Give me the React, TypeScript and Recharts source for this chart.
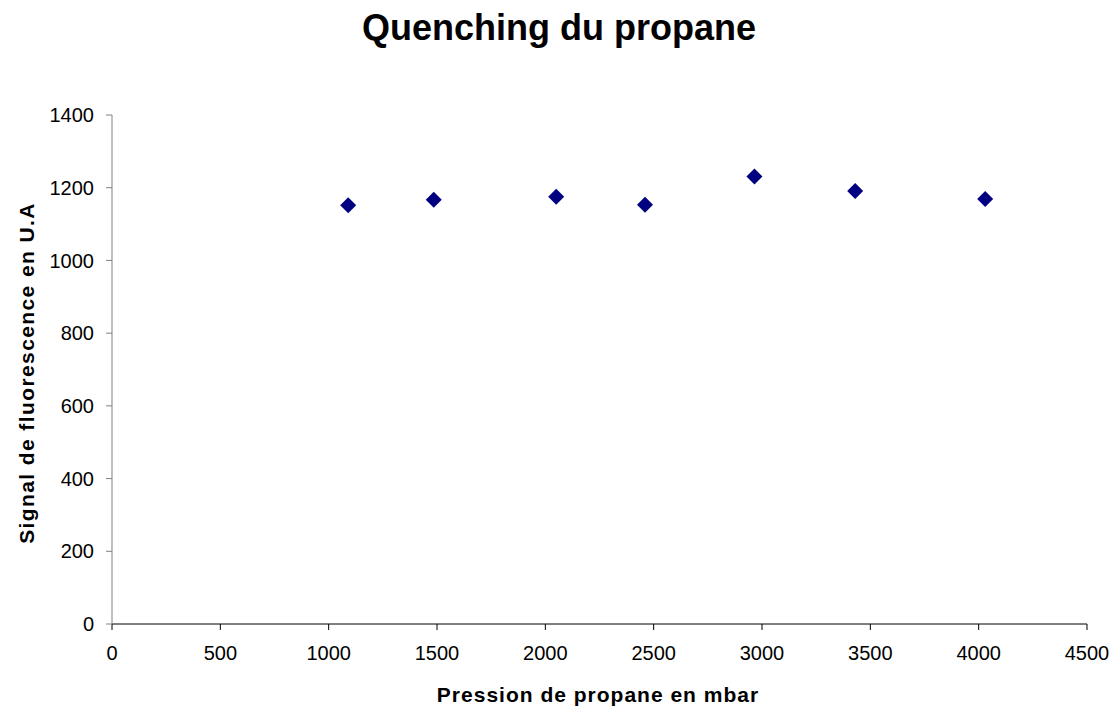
import React from 'react';
import { ScatterChart, Scatter, XAxis, YAxis, Label } from 'recharts';

// pression (mbar) et signal
const pressions = [1090, 1485, 2050, 2460, 2965, 3430, 4030];
const signaux = [1152, 1167, 1175, 1153, 1231, 1191, 1169];
const xTicks = [0, 500, 1000, 1500, 2000, 2500, 3000, 3500, 4000, 4500];
const yTicks = [0, 200, 400, 600, 800, 1000, 1200, 1400];

const data = pressions.map((p, i) => ({ x: p, y: signaux[i] }));

const font = 'Arial, "Liberation Sans", sans-serif';

const Diamond = (props: any) => {
  const { cx, cy } = props;
  const r = 8;
  return (
    <polygon
      points={`${cx},${cy - r} ${cx + r},${cy} ${cx},${cy + r} ${cx - r},${cy}`}
      fill="#000080"
    />
  );
};

export default function App() {
  return (
    <div style={{ position: 'absolute', left: 0, top: 0, width: 1112, height: 706, background: '#fff', fontFamily: font }}>
      <div
        style={{
          position: 'absolute',
          top: 7,
          left: 3,
          width: 1112,
          textAlign: 'center',
          fontSize: 36,
          fontWeight: 'bold',
          color: '#000',
        }}
      >
        Quenching du propane
      </div>
      <ScatterChart width={1112} height={706} margin={{ top: 115, right: 25, bottom: 22, left: 50 }}>
        <XAxis
          type="number"
          dataKey="x"
          domain={[0, 4500]}
          ticks={xTicks}
          interval={0}
          height={60}
          stroke="#000"
          tickSize={6}
          tickMargin={16}
          tick={{ fill: '#000', fontSize: 20, fontFamily: font }}
        >
          <Label
            content={() => (
              <text x={598} y={702} textAnchor="middle" fontSize={21} fontWeight="bold" fontFamily={font} fill="#000" letterSpacing={1}>
                Pression de propane en mbar
              </text>
            )}
          />
        </XAxis>
        <YAxis
          type="number"
          dataKey="y"
          domain={[0, 1400]}
          ticks={yTicks}
          interval={0}
          width={62}
          stroke="#808080"
          tickSize={6}
          tickMargin={12}
          tick={{ fill: '#000', fontSize: 20, fontFamily: font }}
        >
          <Label
            content={() => (
              <text
                x={34}
                y={373}
                textAnchor="middle"
                fontSize={21}
                fontWeight="bold"
                fontFamily={font}
                fill="#000"
                letterSpacing={1.4}
                transform="rotate(-90 34 373)"
              >
                Signal de fluorescence en U.A
              </text>
            )}
          />
        </YAxis>
        <Scatter data={data} shape={Diamond} isAnimationActive={false} />
      </ScatterChart>
    </div>
  );
}
